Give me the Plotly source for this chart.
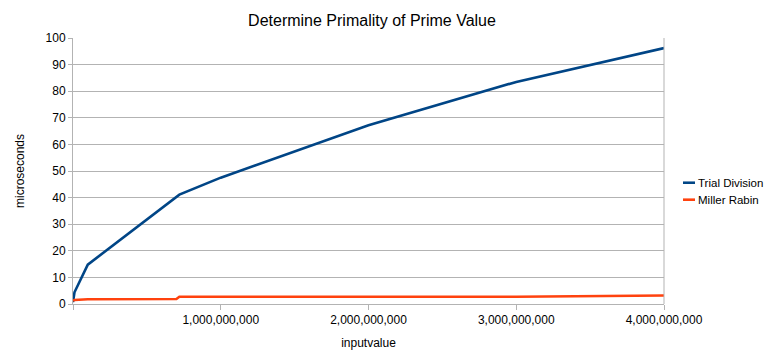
import plotly.graph_objects as go

input_values = [1, 10_000_000, 100_000_000, 700_000_000, 720_000_000,
                1_000_000_000, 2_000_000_000, 3_000_000_000, 4_000_000_000]
trial_division = [0.7, 4.4, 14.8, 40.5, 41.1, 47.5, 67.2, 83.5, 96.2]
miller_rabin = [1.3, 1.5, 1.8, 1.9, 2.7, 2.7, 2.8, 2.7, 3.2]

x_tick_vals = [0, 1_000_000_000, 2_000_000_000, 3_000_000_000, 4_000_000_000]
x_tick_text = ["", "1,000,000,000", "2,000,000,000", "3,000,000,000", "4,000,000,000"]

series = [("Trial Division", trial_division, "#004586"),
          ("Miller Rabin", miller_rabin, "#ff420e")]

# page body has an 8px margin; figure coordinates are screen minus 8
OFF = 8
W, H = 771, 355
L, R_EDGE, T, B_EDGE = 73 - OFF, 664 - OFF, 38 - OFF, 304.5 - OFF
PW, PH = R_EDGE - L, B_EDGE - T

fig = go.Figure()
for name, vals, color in series:
    fig.add_trace(go.Scatter(x=input_values, y=vals, mode="lines", name=name,
                             line=dict(color=color, width=2.6), showlegend=False))

font = dict(family="Liberation Sans, Arial, sans-serif", size=12, color="#000000")
legend_font = dict(family="Liberation Sans, Arial, sans-serif", size=11.5, color="#000000")

# manual legend (short line samples like the original)
for i, (name, vals, color) in enumerate(series):
    ypix = 183 - OFF + i * 17
    ypaper = (B_EDGE - ypix) / PH
    fig.add_shape(type="line", xref="paper", yref="paper",
                  x0=(683 - OFF - L) / PW, x1=(695 - OFF - L) / PW, y0=ypaper, y1=ypaper,
                  line=dict(color=color, width=2.6))
    fig.add_annotation(text=name, xref="paper", yref="paper",
                       x=(696 - OFF - L) / PW, y=ypaper, xanchor="left", yanchor="middle",
                       showarrow=False, font=legend_font)

fig.update_layout(
    width=W, height=H,
    margin=dict(l=L, r=W - R_EDGE, t=T, b=H - B_EDGE),
    paper_bgcolor="white", plot_bgcolor="white",
    font=font,
    title=dict(text="Determine Primality of Prime Value", x=(372 - OFF) / W, xanchor="center",
               y=1 - (20 - OFF) / H, yanchor="middle",
               font=dict(family="Liberation Sans, Arial, sans-serif", size=16, color="#000000")),
    xaxis=dict(range=[0, 4_000_000_000], tickvals=x_tick_vals, ticktext=x_tick_text,
               showgrid=False, zeroline=False, showline=True, linecolor="#b3b3b3", linewidth=1,
               ticks="outside", ticklen=5, tickcolor="#b3b3b3",
               title=dict(text="inputvalue", standoff=12, font=font)),
    yaxis=dict(range=[0, 100], dtick=10, showgrid=True, gridcolor="#b3b3b3", gridwidth=1,
               zeroline=False, showline=True, linecolor="#b3b3b3", linewidth=1,
               ticks="outside", ticklen=4, tickcolor="#b3b3b3",
               title=dict(text="microseconds", standoff=18, font=font)),
)
fig.add_shape(type="line", xref="paper", yref="paper", x0=1, x1=1, y0=0, y1=1,
              line=dict(color="#b3b3b3", width=1))

fig.write_html("out.html")
